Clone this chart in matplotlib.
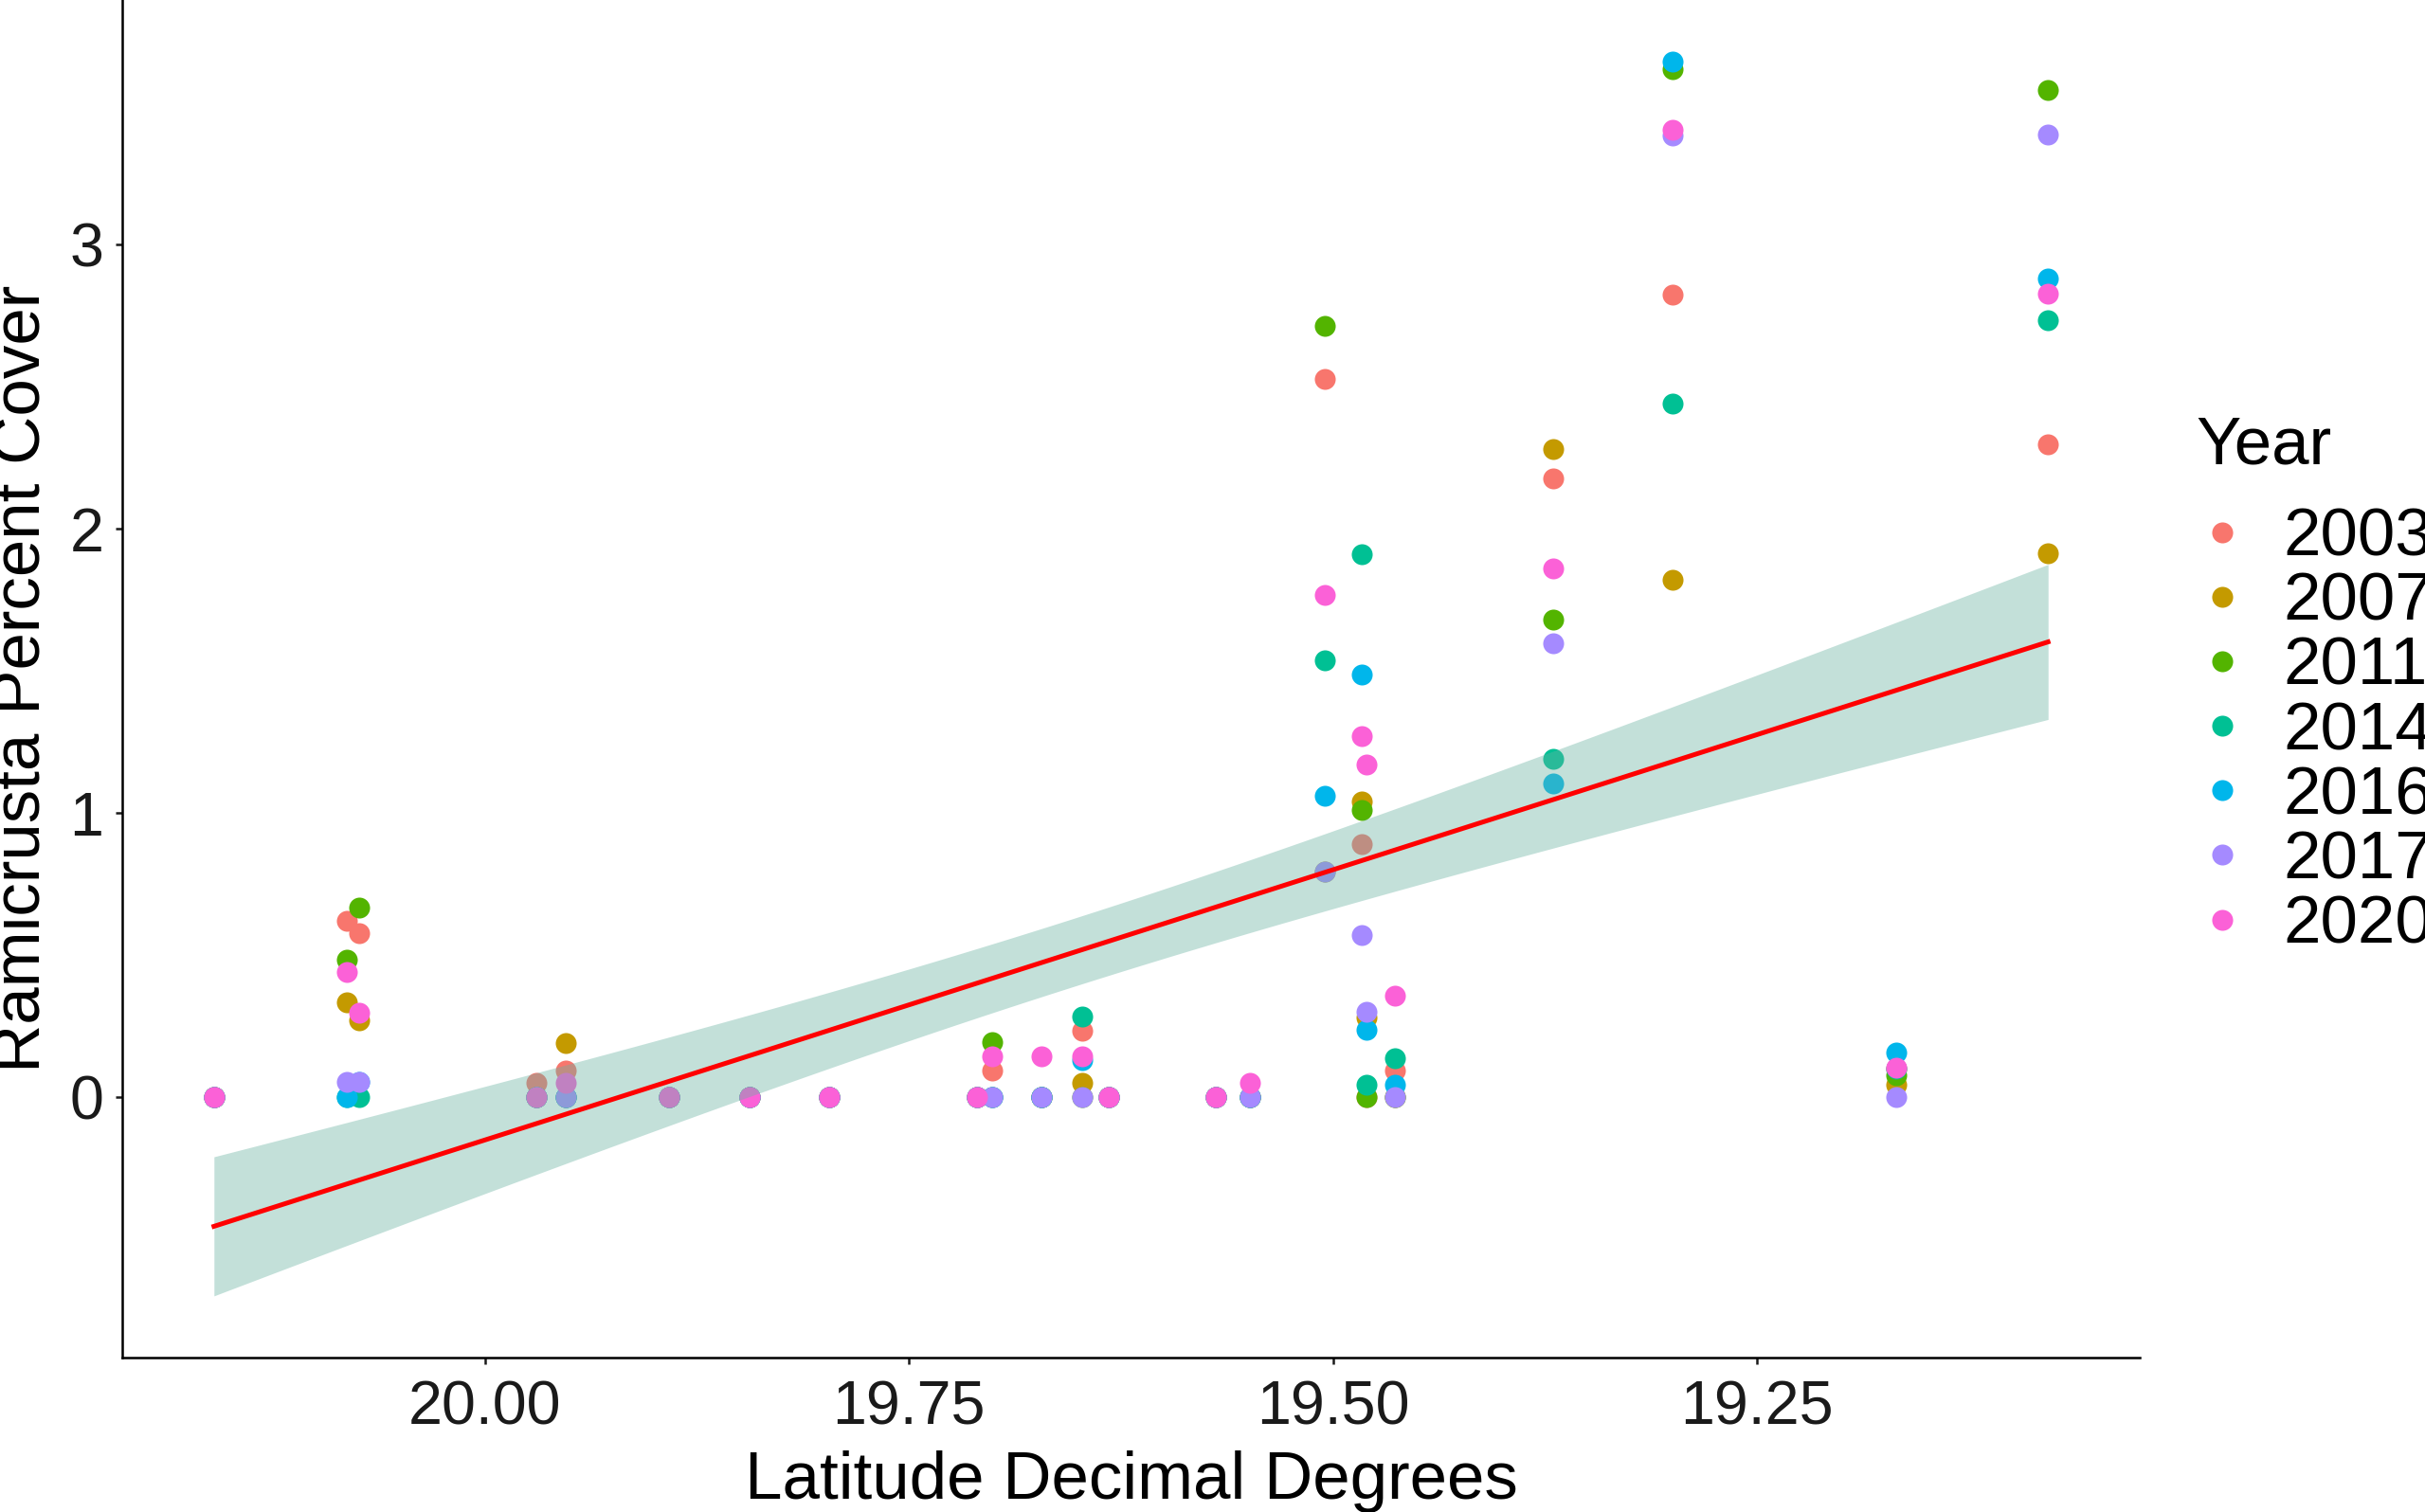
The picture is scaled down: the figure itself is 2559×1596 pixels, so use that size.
import numpy as np
import matplotlib
matplotlib.use("Agg")
import matplotlib.pyplot as plt
from matplotlib.lines import Line2D

plt.rcParams['font.family'] = ['Liberation Sans', 'DejaVu Sans']

years = ['2003', '2007', '2011', '2014', '2016', '2017', '2020']
year_colors = ['#F8766D', '#C49A00', '#53B400', '#00C094', '#00B6EB', '#A58AFF', '#FB61D7']

latitude = [20.1597, 20.0812, 20.0741, 19.9698, 19.9525, 19.8916, 19.8437, 19.7970,
            19.7097, 19.7007, 19.6720, 19.6477, 19.6321, 19.5689, 19.5490, 19.5046,
            19.4832, 19.4800, 19.4633, 19.3702, 19.2995, 19.1681, 19.0784]

cover_2003 = [0, 0.622, 0.578, 0.05, 0.095, 0, 0, 0, 0, 0.095, 0, 0.234, 0, 0, 0,
              2.528, 0.889, 0, 0.092, 2.178, 2.825, 0.10, 2.297]
cover_2007 = [0, 0.334, 0.272, 0, 0.189, 0, 0, 0, 0, 0, 0, 0.05, 0, 0, 0,
              0.795, 1.039, 0.28, 0, 2.280, 1.821, 0.042, 1.914]
cover_2011 = [0, 0.484, 0.667, 0, 0, 0, 0, 0, 0, 0.195, 0, 0, 0, 0, 0,
              2.715, 1.011, 0, 0, 1.681, 3.618, 0.078, 3.543]
cover_2014 = [0, 0, 0, 0, 0, 0, 0, 0, 0, 0, 0, 0.284, 0, 0, 0,
              1.537, 1.911, 0.042, 0.137, 1.189, 2.441, 0.10, 2.734]
cover_2016 = [0, 0, 0.052, 0, 0, 0, 0, 0, 0, 0, 0, 0.13, 0, 0, 0,
              1.059, 1.486, 0.237, 0.042, 1.103, 3.644, 0.156, 2.880]
cover_2017 = [0, 0.052, 0.052, 0, 0, 0, 0, 0, 0, 0, 0, 0, 0, 0, 0,
              0.795, 0.570, 0.300, 0, 1.597, 3.385, 0, 3.389]
cover_2020 = [0, 0.442, 0.297, 0, 0.05, 0, 0, 0, 0, 0.145, 0.145, 0.145, 0, 0, 0.05,
              1.767, 1.272, 1.169, 0.358, 1.860, 3.406, 0.104, 2.827]

covers = [cover_2003, cover_2007, cover_2011, cover_2014, cover_2016, cover_2017, cover_2020]

x_ticks = [20.00, 19.75, 19.50, 19.25]
y_ticks = [0, 1, 2, 3]

# ---- linear model (like geom_smooth(method = "lm")) ----
lat_arr = np.array(latitude)
x_all = np.concatenate([lat_arr for _ in covers])
y_all = np.concatenate([np.array(c, dtype=float) for c in covers])
n = len(x_all)
slope, intercept = np.polyfit(x_all, y_all, 1)
resid = y_all - (intercept + slope * x_all)
df = n - 2
s = np.sqrt(np.sum(resid ** 2) / df)
xbar = x_all.mean()
sxx = np.sum((x_all - xbar) ** 2)
z = 1.959964
tq = z + (z ** 3 + z) / (4 * df) + (5 * z ** 5 + 16 * z ** 3 + 3 * z) / (96 * df ** 2)
xs = np.linspace(x_all.min(), x_all.max(), 80)
fit = intercept + slope * xs
se = s * np.sqrt(1.0 / n + (xs - xbar) ** 2 / sxx)
lo = fit - tq * se
hi = fit + tq * se

# ---- figure ----
W, H, DPI = 2559, 1596, 300
fig = plt.figure(figsize=(W / DPI, H / DPI), dpi=DPI)
ax = fig.add_axes([129 / W, 1 - 1433 / H, (2258 - 129) / W, 1433 / H])

for yr, col, cov in zip(years, year_colors, covers):
    ax.scatter(latitude, cov, s=28, color=col, linewidths=0, zorder=2, label=yr)

ax.fill_between(xs, lo, hi, color='#69b3a2', alpha=0.4, linewidth=0, zorder=3)
ax.plot(xs, fit, color='red', linewidth=1.2, zorder=4)

# limits with ggplot-like 5% expansion
xmin, xmax = x_all.min(), x_all.max()
xr = xmax - xmin
ymin = min(y_all.min(), lo.min())
ymax = max(y_all.max(), hi.max())
yr_ = ymax - ymin
ax.set_xlim(xmax + 0.05 * xr, xmin - 0.05 * xr)
ax.set_ylim(ymin - 0.05 * yr_, ymax + 0.05 * yr_)

ax.set_xticks(x_ticks)
ax.set_xticklabels([f"{v:.2f}" for v in x_ticks])
ax.set_yticks(y_ticks)
ax.set_yticklabels([str(v) for v in y_ticks])

for side in ['top', 'right']:
    ax.spines[side].set_visible(False)
for side in ['left', 'bottom']:
    ax.spines[side].set_linewidth(0.6)
    ax.spines[side].set_color('black')

ax.tick_params(axis='both', length=1.7, width=0.6, color='#1a1a1a',
               labelsize=15.5, labelcolor='#1a1a1a')
ax.tick_params(axis='x', pad=4)
ax.tick_params(axis='y', pad=3)
ax.set_xlabel('Latitude Decimal Degrees', fontsize=17, color='black', labelpad=3.5)
ax.set_ylabel('Ramicrusta Percent Cover', fontsize=17, color='black', labelpad=4)

# legend (title placed separately to mimic ggplot spacing)
fig.text(2317 / W, 1 - 490 / H, 'Year', ha='left', va='baseline', fontsize=17, color='black')
handles = [Line2D([0], [0], marker='o', linestyle='none', markersize=5.3,
                  markerfacecolor=c, markeredgewidth=0) for c in year_colors]
leg = fig.legend(handles, years, loc='center left',
                 bbox_to_anchor=(2317 / W, 1 - 773 / H), frameon=False,
                 fontsize=17, handlelength=0.79,
                 handletextpad=0.51, labelspacing=0.03, borderpad=0,
                 borderaxespad=0)

fig.savefig('out.png', dpi=DPI)
